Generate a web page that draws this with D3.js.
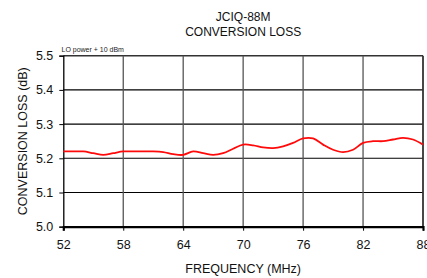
<!DOCTYPE html>
<html><head><meta charset="utf-8">
<script src="https://cdn.jsdelivr.net/npm/d3@7"></script>
<style>body{margin:0;background:#fff;}svg{display:block;font-family:"Liberation Sans",Arial,sans-serif;}</style>
</head><body>
<script>
const freqs = [52,53,54,55,56,57,58,59,60,61,62,63,64,65,66,67,68,69,70,71,72,73,74,75,76,77,78,79,80,81,82,83,84,85,86,87,88];
const loss = [5.22,5.22,5.22,5.215,5.21,5.215,5.22,5.22,5.22,5.22,5.218,5.212,5.21,5.22,5.215,5.21,5.215,5.228,5.24,5.238,5.232,5.23,5.235,5.245,5.258,5.258,5.24,5.225,5.218,5.225,5.245,5.25,5.25,5.255,5.26,5.255,5.24];
const xTicks = [52,58,64,70,76,82,88];
const yTicks = [5.0,5.1,5.2,5.3,5.4,5.5];
const titleLines = ["JCIQ-88M","CONVERSION LOSS"];

const W=427,H=278;
const svg=d3.select("body").append("svg").attr("width",W).attr("height",H);
const L=63.3,R=423,T=55.7,B=226.7;
const x=d3.scaleLinear().domain([52,88]).range([L,R]);
const y=d3.scaleLinear().domain([5.0,5.5]).range([B,T]);

// horizontal gridlines
svg.append("g").selectAll("line").data(yTicks.slice(1)).join("line")
  .attr("x1",L).attr("x2",R).attr("y1",d=>y(d)).attr("y2",d=>y(d))
  .attr("stroke",d=>d===5.5?"#333":"#000").attr("stroke-width",d=>d===5.5?1.6:1.1);
// vertical gridlines
svg.append("g").selectAll("line").data(xTicks.slice(1)).join("line")
  .attr("x1",d=>x(d)).attr("x2",d=>x(d)).attr("y1",T).attr("y2",B)
  .attr("stroke",d=>d===88?"#333":"#555").attr("stroke-width",d=>d===88?1.8:1.3);

// axes
const xAxis=d3.axisBottom(x).tickValues(xTicks).tickSize(4).tickPadding(9).tickFormat(d3.format("d"));
const gx=svg.append("g").attr("transform",`translate(0,${B})`).call(xAxis);
gx.select(".domain").attr("stroke","#000").attr("stroke-width",2.2);
gx.selectAll(".tick line").attr("stroke","#000");
gx.selectAll("text").attr("font-size",12.5).attr("fill","#111").attr("font-family","Liberation Sans, Arial, sans-serif");

const yAxis=d3.axisLeft(y).tickValues(yTicks).tickSize(4).tickPadding(6).tickFormat(d3.format(".1f"));
const gy=svg.append("g").attr("transform",`translate(${L},0)`).call(yAxis);
gy.select(".domain").attr("stroke","#000").attr("stroke-width",1.3);
gy.selectAll(".tick line").attr("stroke","#000");
gy.selectAll("text").attr("font-size",12.5).attr("fill","#111").attr("font-family","Liberation Sans, Arial, sans-serif");

// curve
const line=d3.line().x((d,i)=>x(freqs[i])).y(d=>y(d)).curve(d3.curveCatmullRom.alpha(0.5));
svg.append("path").datum(loss).attr("d",line).attr("fill","none").attr("stroke","#ff0a0a").attr("stroke-width",1.8);

// titles
svg.append("g").selectAll("text").data(titleLines).join("text")
  .attr("x",(L+R)/2).attr("y",(d,i)=>21+i*15).attr("text-anchor","middle")
  .attr("font-size",12).attr("fill","#111").text(d=>d);
svg.append("text").attr("x",61.5).attr("y",51.5).attr("font-size",7).attr("fill","#222").text("LO power + 10 dBm");
svg.append("text").attr("x",(L+R)/2).attr("y",272.7).attr("text-anchor","middle").attr("font-size",12.5).attr("fill","#111").text("FREQUENCY (MHz)");
svg.append("text").attr("transform",`translate(26.5,${(T+B)/2}) rotate(-90)`).attr("text-anchor","middle").attr("font-size",12.5).attr("fill","#111").text("CONVERSION LOSS (dB)");
</script>
</body></html>
